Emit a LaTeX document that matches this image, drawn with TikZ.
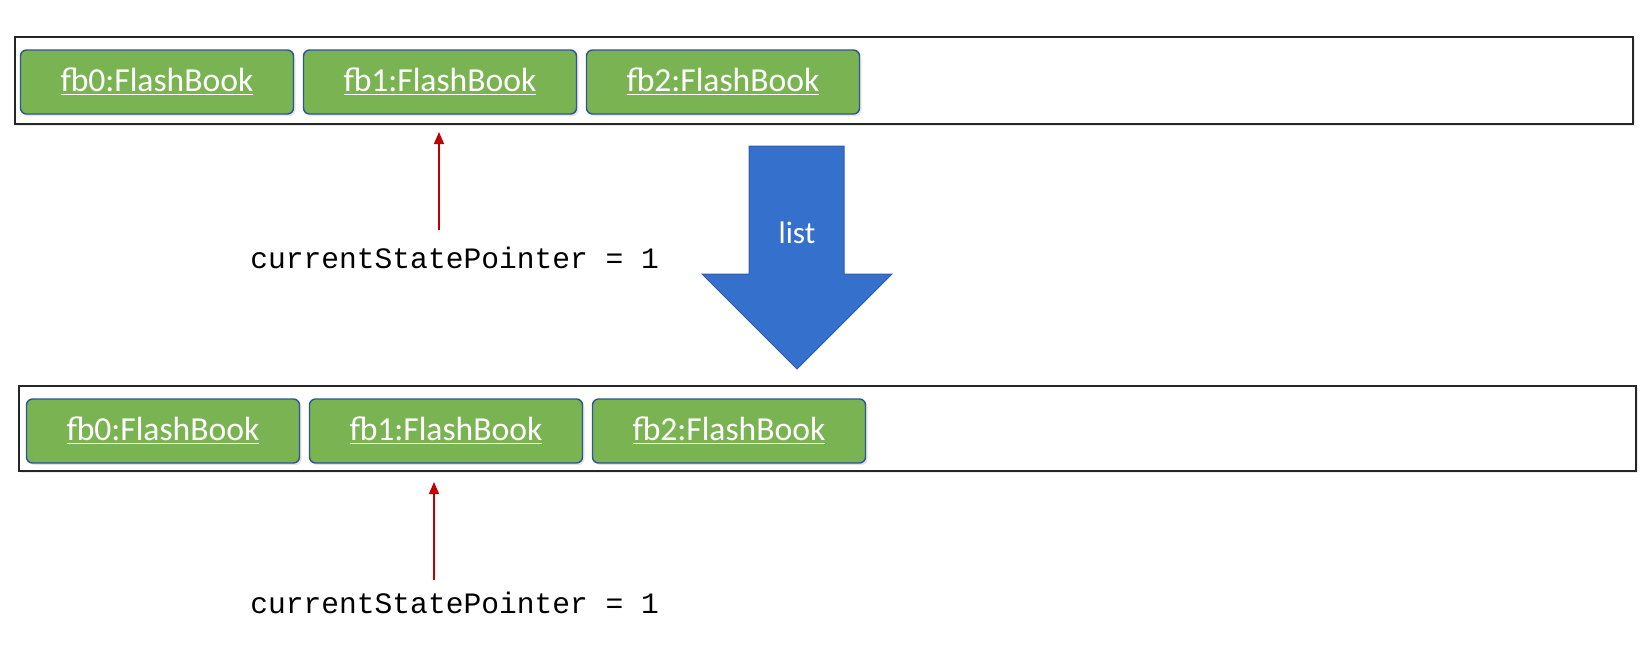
\documentclass[tikz,border=0pt]{standalone}
\usepackage{fontspec}
\usepackage{xcolor}
\setmainfont{Carlito}
\newfontfamily\codefont{Liberation Mono}
\usetikzlibrary{positioning,arrows.meta,shadows}

\definecolor{bookgreen}{HTML}{7AB452}
\definecolor{bookedge}{HTML}{2F5597}
\definecolor{listblue}{HTML}{3470CC}
\definecolor{listedge}{HTML}{2F5DAA}
\definecolor{ptrred}{HTML}{C00000}

\begin{document}
\begin{tikzpicture}[x=0.5pt,y=-0.5pt,
    frame/.style={draw=black!85, fill=white, line width=1pt, drop shadow={opacity=0.15,shadow xshift=1pt,shadow yshift=-1pt}},
    book/.style={draw=bookedge, line width=0.7pt, fill=bookgreen, rounded corners=3pt,
        minimum width=136.5pt, minimum height=32pt, inner sep=0pt, text=white,
        font=\fontsize{16.8}{18}\selectfont,
        drop shadow={opacity=0.2,shadow xshift=1pt,shadow yshift=-1pt}},
    ptr/.style={draw=ptrred, line width=0.6pt, -{Triangle[length=6pt,width=5pt]}},
    ptrlabel/.style={font=\codefont\fontsize{14.8}{16}\selectfont, inner sep=0pt, anchor=base west}]

\useasboundingbox (0,0) rectangle (1650,649);

% state before the command
\draw[frame] (15,37) rectangle (1633,124);
\node[book] (a0) at (157,82) {\underline{fb0:FlashBook}};
\node[book, right=4.3pt of a0] (a1) {\underline{fb1:FlashBook}};
\node[book, right=4.3pt of a1] (a2) {\underline{fb2:FlashBook}};

\node[ptrlabel] (ptrA) at (250,268) {currentStatePointer = 1};
\coordinate (tailA) at (439,230);
\coordinate (tipA) at (439,132);
\draw[ptr] (tailA) -- (tipA);

% big arrow
\draw[fill=listblue, draw=listedge, line width=0.5pt]
    (749,146) -- (844,146) -- (844,274) -- (892,274) -- (797,369)
    -- (702,274) -- (749,274) -- cycle;
\node[text=white, font=\fontsize{15.6}{18}\selectfont] (cmd) at (797,233) {list};

% state after the command
\draw[frame] (19,386) rectangle (1636,471);
\node[book] (b0) at (163,431) {\underline{fb0:FlashBook}};
\node[book, right=4.3pt of b0] (b1) {\underline{fb1:FlashBook}};
\node[book, right=4.3pt of b1] (b2) {\underline{fb2:FlashBook}};

\node[ptrlabel] (ptrB) at (250,613) {currentStatePointer = 1};
\coordinate (tailB) at (434,580);
\coordinate (tipB) at (434,482);
\draw[ptr] (tailB) -- (tipB);

\end{tikzpicture}
\end{document}
